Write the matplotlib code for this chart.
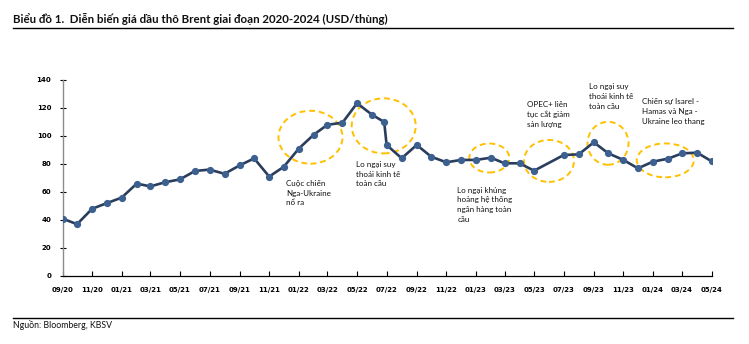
import matplotlib
matplotlib.use('Agg')
import matplotlib.pyplot as plt
import matplotlib.dates as mdates
from matplotlib.patches import Ellipse
from matplotlib.lines import Line2D
import pandas as pd

# Brent price points (USD/barrel)
dates = ['2020-09-01', '2020-10-01', '2020-11-01', '2020-12-01',
         '2021-01-01', '2021-02-01', '2021-03-01', '2021-04-01', '2021-05-01', '2021-06-01',
         '2021-07-01', '2021-08-01', '2021-09-01', '2021-10-01', '2021-11-01', '2021-12-01',
         '2022-01-01', '2022-02-01', '2022-03-01', '2022-04-01', '2022-05-01', '2022-06-01',
         '2022-06-26', '2022-07-01', '2022-08-01', '2022-09-01', '2022-10-01', '2022-11-01',
         '2022-12-01', '2023-01-01', '2023-02-01', '2023-03-01', '2023-04-01', '2023-05-01',
         '2023-07-01', '2023-08-01', '2023-09-01', '2023-10-01', '2023-11-01', '2023-12-01',
         '2024-01-01', '2024-02-01', '2024-03-01', '2024-04-01', '2024-05-01']
prices = [41, 37, 48, 52,
          56, 66, 64, 67, 69, 75,
          76, 73, 79, 84, 71, 78,
          91, 101, 108, 109.5, 123.4, 115.2,
          110, 93.6, 84.1, 93.6, 85.2, 81.2,
          82.9, 82.9, 84.5, 80.5, 80.5, 75.2,
          86.4, 86.9, 95.5, 87.6, 82.9, 76.9,
          81.7, 83.8, 87.6, 88.1, 81.9]

yticks = [0, 20, 40, 60, 80, 100, 120, 140]

# annotation notes: text, (x, y) in axes fraction, top-left anchor
notes = ['Cuộc chiến\nNga-Ukraine\nnổ ra',
         'Lo ngại suy\nthoái kinh tế\ntoàn cầu',
         'Lo ngại khủng\nhoảng hệ thống\nngân hàng toàn\ncầu',
         'OPEC+ liên\ntục cắt giảm\nsản lượng',
         'Lo ngại suy\nthoái kinh tế\ntoàn cầu',
         'Chiến sự Isarel -\nHamas và Nga -\nUkraine leo thang']
note_pos = [(0.344, 0.490), (0.452, 0.587), (0.608, 0.456),
            (0.716, 0.893), (0.8105, 0.983), (0.893, 0.907)]

# dashed circles (cx, cy, w, h) in axes fraction
circles = [(0.382, 0.708, 0.0986, 0.270),
           (0.4948, 0.766, 0.0986, 0.281),
           (0.6574, 0.602, 0.0616, 0.148),
           (0.7494, 0.587, 0.077, 0.214),
           (0.8403, 0.677, 0.0632, 0.219),
           (0.9285, 0.590, 0.0878, 0.173)]

x = pd.to_datetime(dates)

fig = plt.figure(figsize=(7.49, 3.44), dpi=100)
ax = fig.add_axes([62.5 / 749, 1 - 276 / 344, 649.2 / 749, 196 / 344])

ax.plot(x, prices, color='#2b3d5c', lw=1.9, marker='o', markersize=4.2,
        markerfacecolor='#3c6190', markeredgecolor='#3c6190', zorder=3)

ax.set_xlim(pd.Timestamp('2020-09-01'), pd.Timestamp('2024-05-01'))
ax.set_ylim(0, 140)
ax.set_yticks(yticks)
xt = pd.date_range('2020-09-01', '2024-05-01', freq='2MS')
ax.set_xticks(xt)
ax.xaxis.set_major_formatter(mdates.DateFormatter('%m/%y'))

for s in ['top', 'right']:
    ax.spines[s].set_visible(False)
ax.spines['left'].set_color('#8c8c8c')
ax.spines['left'].set_linewidth(1.0)
ax.spines['bottom'].set_color('black')
ax.spines['bottom'].set_linewidth(0.9)

ax.tick_params(axis='y', direction='inout', length=4, width=0.8, pad=6,
               labelsize=5, colors='black')
ax.tick_params(axis='x', direction='in', length=3.6, width=0.8, pad=8,
               labelsize=5, colors='black')
for lab in ax.get_xticklabels() + ax.get_yticklabels():
    lab.set_fontweight('bold')

for (cx, cy, w, h) in circles:
    ax.add_patch(Ellipse((cx, cy), w, h, transform=ax.transAxes, fill=False,
                         edgecolor='#ffc000', lw=1.4, ls=(0, (3, 2)), zorder=2))

for txt, (tx, ty) in zip(notes, note_pos):
    ax.text(tx, ty, txt, transform=ax.transAxes, ha='left', va='top',
            fontsize=5.8, family=['Lato', 'DejaVu Sans'], color='#111111',
            linespacing=1.45)

fig.text(13 / 749, 1 - 19 / 344,
         'Biểu đồ 1.  Diễn biến giá dầu thô Brent giai đoạn 2020-2024 (USD/thùng)',
         ha='left', va='center', fontsize=8.3, fontweight='bold',
         family=['Lato', 'DejaVu Sans'], color='#111111')
fig.add_artist(Line2D([13 / 749, 733.3 / 749], [1 - 28.3 / 344] * 2,
                      color='black', lw=1.0))
fig.add_artist(Line2D([13 / 749, 733.3 / 749], [1 - 318.3 / 344] * 2,
                      color='black', lw=1.0))
fig.text(13 / 749, 1 - 325 / 344, 'Nguồn: Bloomberg, KBSV',
         ha='left', va='center', fontsize=6.3,
         family=['Lato', 'DejaVu Sans'], color='#111111')

fig.savefig('out.png', dpi=100, facecolor='white')
